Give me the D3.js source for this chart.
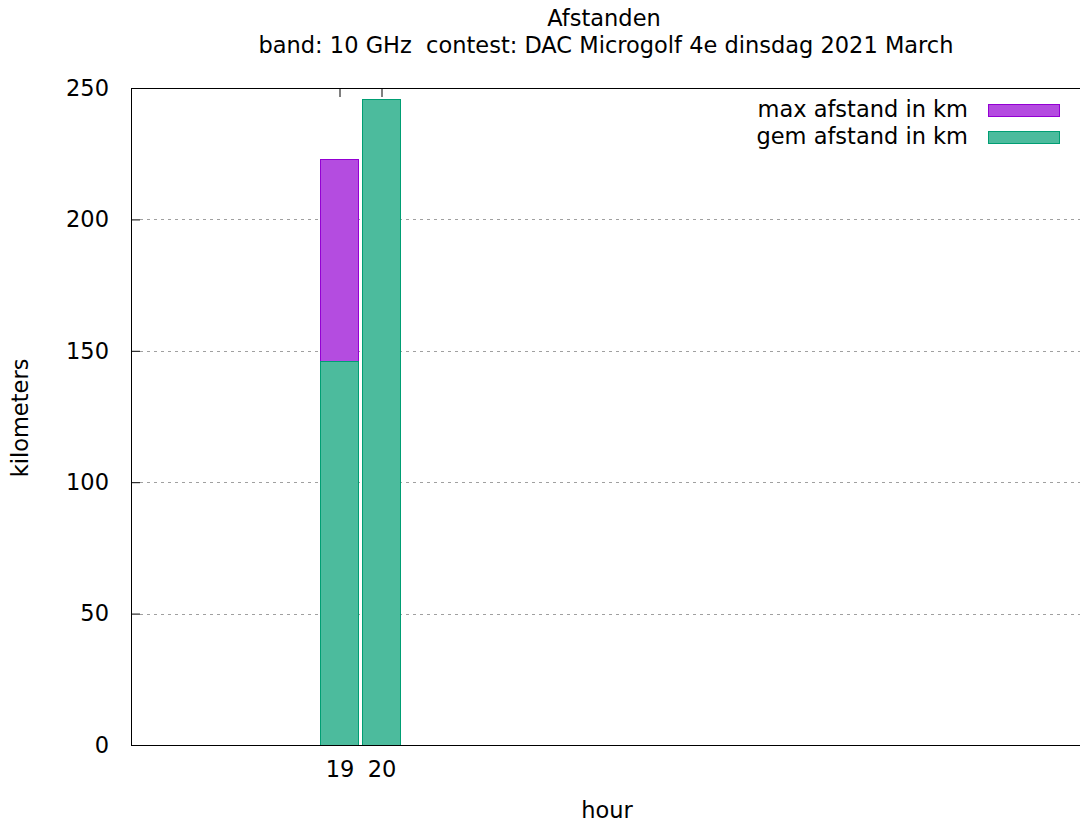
<!DOCTYPE html>
<html>
<head>
<meta charset="utf-8">
<script src="https://cdn.jsdelivr.net/npm/d3@7"></script>
<style>
  html, body { margin: 0; padding: 0; background: #fff; }
  svg { display: block; font-family: "DejaVu Sans", sans-serif; }
  text { white-space: pre; }
</style>
</head>
<body>
<svg id="chart" width="1080" height="826"></svg>
<script>
const hours = [19, 20];
const maxAfstand = [223, 246];
const gemAfstand = [146, 246];
const yTicks = [0, 50, 100, 150, 200, 250];
const seriesNames = ["max afstand in km", "gem afstand in km"];
const titleText = "Afstanden";
const subtitleText = "band: 10 GHz  contest: DAC Microgolf 4e dinsdag 2021 March";

const svg = d3.select("#chart");
const plotLeft = 131, plotTop = 88, plotBottom = 745, plotRight = 1100;
const x = d3.scaleLinear().domain([19, 20]).range([339.5, 381.5]);
const y = d3.scaleLinear().domain([0, 250]).range([plotBottom, plotTop]);
const fontSize = 22.5;

const colors = {
  max: { fill: "#b44ce0", stroke: "#9400d3" },
  gem: { fill: "#4cbb9d", stroke: "#009e73" }
};

// grid lines
svg.append("g").selectAll("line").data(yTicks.filter(d => d > 0 && d < 250)).join("line")
  .attr("x1", plotLeft + 9).attr("x2", plotRight)
  .attr("y1", d => Math.round(y(d)) + 0.5).attr("y2", d => Math.round(y(d)) + 0.5)
  .attr("stroke", "#a0a0a0").attr("stroke-width", 1)
  .attr("stroke-dasharray", "3,4");

// x axis bottom (drawn behind bars)
const xAxis = d3.axisBottom(x).tickValues(hours).tickSize(-9).tickPadding(16).tickFormat(d3.format("d"));
const gx = svg.append("g").attr("transform", `translate(0,${plotBottom})`).call(xAxis);
gx.select(".domain").remove();
gx.selectAll("line").attr("stroke", "#000");
gx.selectAll("text").attr("font-size", fontSize).attr("fill", "#000").attr("font-family", "DejaVu Sans");

// bars
const barW = 0.92;
function drawBars(vals, c) {
  svg.append("g").selectAll("rect").data(hours.map((h, i) => ({ h, v: vals[i] }))).join("rect")
    .attr("x", d => Math.round(x(d.h - barW / 2)) + 0.5)
    .attr("width", d => Math.round(x(d.h + barW / 2) - x(d.h - barW / 2)) - 1)
    .attr("y", d => Math.round(y(d.v)) + 0.5)
    .attr("height", d => plotBottom - Math.round(y(d.v)))
    .attr("fill", c.fill).attr("stroke", c.stroke).attr("stroke-width", 1);
}
drawBars(maxAfstand, colors.max);
drawBars(gemAfstand, colors.gem);

// y axis
const yAxis = d3.axisLeft(y).tickValues(yTicks).tickSize(-9).tickPadding(22).tickFormat(d3.format("d"));
const gy = svg.append("g").attr("transform", `translate(${plotLeft},0)`).call(yAxis);
gy.select(".domain").remove();
gy.selectAll("line").attr("stroke", "#000");
gy.selectAll("text").attr("font-size", fontSize).attr("fill", "#000").attr("font-family", "DejaVu Sans");

// x axis top mirror ticks
const xTop = d3.axisTop(x).tickValues(hours).tickSize(-9).tickFormat("");
const gt = svg.append("g").attr("transform", `translate(0,${plotTop})`).call(xTop);
gt.select(".domain").remove();
gt.selectAll("line").attr("stroke", "#000");

// border
svg.append("rect").attr("x", plotLeft + 0.5).attr("y", plotTop + 0.5)
  .attr("width", plotRight - plotLeft).attr("height", plotBottom - plotTop)
  .attr("fill", "none").attr("stroke", "#000").attr("stroke-width", 1);

// titles
svg.append("text").attr("x", 604).attr("y", 26).attr("text-anchor", "middle")
  .attr("font-size", fontSize).text(titleText);
svg.append("text").attr("x", 606).attr("y", 53).attr("text-anchor", "middle")
  .attr("font-size", fontSize).text(subtitleText);

// axis labels
svg.append("text").attr("transform", "translate(28,418) rotate(-90)").attr("text-anchor", "middle")
  .attr("font-size", fontSize).text("kilometers");
svg.append("text").attr("x", 607).attr("y", 818).attr("text-anchor", "middle")
  .attr("font-size", fontSize).text("hour");

// legend
const legendColors = [colors.max, colors.gem];
const lg = svg.append("g");
seriesNames.forEach((name, i) => {
  const cy = 110 + i * 27;
  lg.append("text").attr("x", 968).attr("y", cy + 7).attr("text-anchor", "end")
    .attr("font-size", fontSize).text(name);
  lg.append("rect").attr("x", 988.5).attr("y", cy - 6 + 0.5).attr("width", 71).attr("height", 12)
    .attr("fill", legendColors[i].fill).attr("stroke", legendColors[i].stroke);
});
</script>
</body>
</html>
